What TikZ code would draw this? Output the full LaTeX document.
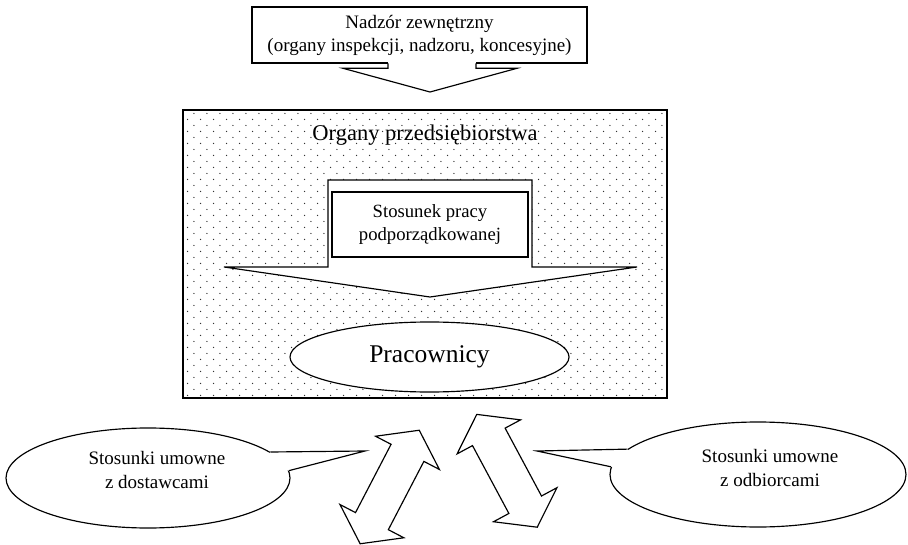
\documentclass[tikz,border=0pt]{standalone}
\usepackage{fontspec}
\setmainfont{Liberation Serif}
\usetikzlibrary{shapes.geometric,patterns}
% staggered dot raster for the enterprise area
\pgfdeclarepatternformonly{stagdots}{\pgfqpoint{0pt}{0pt}}{\pgfqpoint{8pt}{7.44pt}}{\pgfqpoint{8pt}{7.44pt}}{%
  \pgfpathcircle{\pgfqpoint{1pt}{1pt}}{0.45pt}%
  \pgfpathcircle{\pgfqpoint{5pt}{4.72pt}}{0.45pt}%
  \pgfusepath{fill}}
\newcommand{\px}{0.6pt}
\begin{document}
\begin{tikzpicture}[x=0.6pt,y=-0.6pt,
  line/.style={line width=0.7pt, line join=miter},
  box/.style={line, draw, fill=white, rectangle, inner sep=0pt, align=center},
  oval/.style={line, draw, fill=white, ellipse, inner sep=0pt, align=center},
  txtS/.style={font=\fontsize{11.4}{13.8}\selectfont, align=center},
  txtM/.style={font=\fontsize{13.5}{16}\selectfont},
  txtL/.style={font=\fontsize{15.3}{18}\selectfont},
  dblarrow/.pic={\draw[line, fill=white]
    (-64,0) -- (-38.5,36) -- (-38.5,18.5) -- (38.5,18.5) -- (38.5,36) --
    (64,0) -- (38.5,-36) -- (38.5,-18.5) -- (-38.5,-18.5) -- (-38.5,-36) -- cycle;}]
\useasboundingbox (0,0) rectangle (908,545);

% enterprise area
\node[draw, line width=0.95pt, rectangle, inner sep=0pt,
      pattern=stagdots, pattern color=black!80,
      minimum width=484*\px, minimum height=288*\px] (org) at (425,254) {};
\node[txtM] (orgt) at (425,135) {Organy przedsiębiorstwa};

% block arrow carrying the employment relation
\draw[line, fill=white] (328,180) -- (532,180) -- (532,267) -- (637,267) --
  (430,297) -- (224,267) -- (328,267) -- cycle;
\node[box, txtS, font=\fontsize{11.2}{14.1}\selectfont,
      minimum width=196*\px, minimum height=65*\px] (rel) at (430,224.5)
      {Stosunek pracy\\podporządkowanej};

% employees
\node[oval, txtL, minimum width=279*\px, minimum height=70*\px] (emp) at (429.5,357) {Pracownicy};

% external supervision
\node[box, txtS, minimum width=335*\px, minimum height=56*\px] (sup) at (419.5,35)
      {Nadzór zewnętrzny\\(organy inspekcji, nadzoru, koncesyjne)};
\fill[white] (388,61.5) rectangle (476,68);
\draw[line] (388,63.3) -- (388,68.3) -- (343,68.3) -- (430,92) --
  (517,68.3) -- (476,68.3) -- (476,63.3);

% contractual relations with suppliers
\node[oval, minimum width=284*\px, minimum height=100*\px] (dst) at (148,478) {};
\coordinate (dsttip) at (365,451);
\fill[white] (dst.12) -- (dsttip) -- (dst.3) -- ([xshift=-20]dst.3) -- cycle;
\draw[line] (dst.12) -- (dsttip) -- (dst.3);
\node[txtS, font=\fontsize{11.4}{14.4}\selectfont] (dstt) at (157,470) {Stosunki umowne\\z dostawcami};

% contractual relations with customers
\node[oval, minimum width=296*\px, minimum height=105*\px] (odb) at (758,474.5) {};
\coordinate (odbtip) at (537,451);
\fill[white] (odb.169) -- (odbtip) -- (odb.177) -- ([xshift=20]odb.177) -- cycle;
\draw[line] (odb.169) -- (odbtip) -- (odb.177);
\node[txtS, font=\fontsize{11.4}{14.4}\selectfont] (odbt) at (770,468) {Stosunki umowne\\z odbiorcami};

% two-way exchange arrows
\pic[rotate=62.5] at (389.7,487) {dblarrow};
\pic[rotate=118.2] at (507,470.8) {dblarrow};
\end{tikzpicture}
\end{document}
